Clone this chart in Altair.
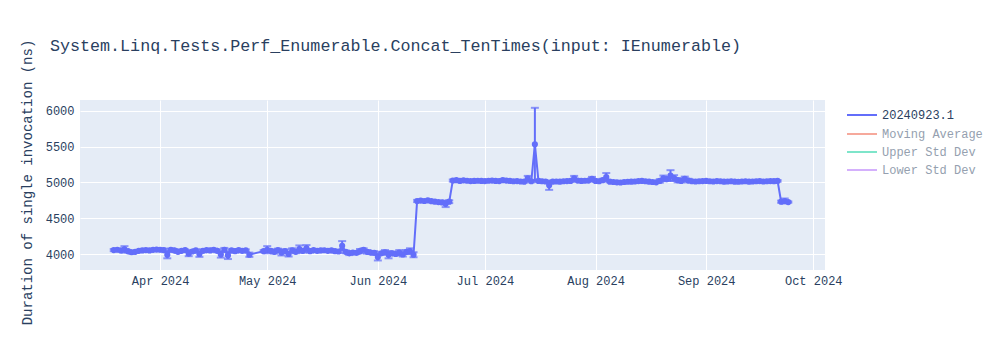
import altair as alt
import pandas as pd

# ---- data ----
series_name = "20240923.1"
extra_names = ["Moving Average", "Upper Std Dev", "Lower Std Dev"]
extra_colors = ["#EF553B", "#00cc96", "#ab63fa"]

dates = list(pd.date_range("2024-03-19", "2024-04-26", freq="D")) + \
        list(pd.date_range("2024-04-30", "2024-09-24", freq="D"))

mar_vals = [4055, 4060, 4050, 4065, 4040, 4025, 4030, 4045, 4050, 4055, 4050, 4058, 4062]
mar_errs = [15, 10, 10, 45, 15, 20, 10, 10, 10, 8, 10, 8, 10]

apr_vals = [4060, 4055, 3990, 4060, 4050, 4030, 4045, 4055, 4005, 4035, 4050, 4000, 4045,
            4055, 4050, 4060, 4045, 3995, 4060, 3980, 4050, 4040, 4055, 4045, 4050, 3990,
            4040]
apr_errs = [15, 20, 50, 15, 20, 15, 15, 10, 35, 20, 15, 40, 20,
            15, 10, 15, 20, 45, 25, 50, 15, 20, 15, 20, 15, 30,
            15]

may_vals = [4060, 4045, 4030, 4055, 4020, 4040, 4000, 4050, 4030, 4070, 4045, 4080, 4040,
            4055, 4045, 4050, 4052, 4045, 4050, 4040, 4035, 4115, 4030, 4010, 4020, 4015,
            4040, 4060, 4030, 4020, 4015]
may_errs = [50, 20, 25, 20, 40, 25, 35, 30, 20, 50, 25, 45, 20,
            15, 20, 15, 12, 15, 10, 15, 20, 65, 20, 25, 20, 15,
            30, 20, 25, 20, 25]

jun_vals = [3960, 4010, 4025, 3990, 4010, 4000, 4020, 3995, 4030, 4040, 3990,
            4740, 4745, 4740, 4748, 4738, 4730, 4725, 4720, 4700, 4730,
            5025, 5030, 5020, 5028, 5022, 5018, 5020, 5022, 5020]
jun_errs = [50, 20, 30, 50, 25, 20, 35, 30, 25, 40, 35,
            15, 10, 10, 8, 10, 10, 12, 15, 45, 20,
            15, 15, 10, 12, 10, 8, 8, 8, 8]

jul_vals = [5018, 5022, 5025, 5020, 5018, 5030, 5025, 5020, 5015, 5018, 5012, 5010, 5055,
            5015, 5530, 5020, 5015, 5012, 4960, 5010, 5012, 5010, 5015, 5018, 5020, 5055,
            5025, 5020, 5022, 5025, 5048]
jul_errs = [8, 8, 10, 8, 8, 12, 10, 8, 8, 8, 10, 12, 35,
            15, 510, 15, 12, 10, 65, 10, 8, 8, 8, 10, 15, 35,
            15, 10, 10, 12, 28]

aug_vals = [5020, 5015, 5030, 5075, 5010, 5005, 5000, 4998, 5005, 5008, 5010, 5012, 5018,
            5020, 5015, 5010, 5005, 5000, 5020, 5055, 5045, 5095, 5060, 5030, 5020, 5050,
            5025, 5015, 5012, 5015, 5018]
aug_errs = [15, 10, 20, 55, 10, 8, 8, 8, 8, 8, 8, 8, 10,
            8, 8, 8, 10, 10, 25, 40, 25, 75, 40, 30, 20, 30,
            25, 10, 8, 8, 8]

sep_vals = [5020, 5015, 5012, 5018, 5015, 5010, 5012, 5015, 5010, 5008, 5012, 5015, 5010,
            5012, 5015, 5018, 5012, 5015, 5018, 5016, 5020, 4730, 4740, 4725]
sep_errs = [8, 8, 8, 8, 8, 8, 8, 8, 8, 8, 8, 8, 8,
            8, 8, 8, 8, 8, 8, 8, 12, 15, 35, 10]

values = mar_vals + apr_vals + may_vals + jun_vals + jul_vals + aug_vals + sep_vals
errors = mar_errs + apr_errs + may_errs + jun_errs + jul_errs + aug_errs + sep_errs

y_ticks = [4000, 4500, 5000, 5500, 6000]

df = pd.DataFrame({
    "date": dates,
    "value": values,
    "lo": [v - e for v, e in zip(values, errors)],
    "hi": [v + e for v, e in zip(values, errors)],
    "series": series_name,
})
df["date"] = df["date"].dt.strftime("%Y-%m-%dT%H:%M:%S")

legend_df = pd.DataFrame({"name": extra_names})

FONT = "Liberation Mono"
TXT = "#2a3f5f"
BLUE = "#636efa"
LEG_SYMBOL = "M-3,0H3"

x_scale = alt.Scale(domain=[alt.DateTime(year=2024, month=3, date=9, hours=13),
                            alt.DateTime(year=2024, month=10, date=4, hours=7)])
y_scale = alt.Scale(domain=[3777, 6149], nice=False, zero=False)

x_axis = alt.Axis(
    title=None, format="%b %Y",
    values=[alt.DateTime(year=2024, month=m, date=1) for m in range(4, 11)],
    grid=True, gridColor="white", gridWidth=1, domain=False, ticks=False,
    labelFont=FONT, labelFontSize=12, labelColor=TXT, labelPadding=5,
)
y_axis = alt.Axis(
    title="Duration of single invocation (ns)", values=y_ticks, format="d",
    grid=True, gridColor="white", gridWidth=1, domain=False, ticks=False,
    labelFont=FONT, labelFontSize=12, labelColor=TXT, labelPadding=6,
    titleFont=FONT, titleFontSize=14, titleFontWeight="normal", titleColor=TXT,
    titleX=-53, titleY=82, titleAngle=270, titleAlign="center", titleBaseline="middle",
)

X = alt.X("date:T", scale=x_scale, axis=x_axis)
Y = alt.Y("value:Q", scale=y_scale, axis=y_axis)

base = alt.Chart(df)

line = base.mark_line(strokeWidth=2, clip=True).encode(
    x=X, y=Y,
    color=alt.Color("series:N",
                    scale=alt.Scale(domain=[series_name], range=[BLUE]),
                    legend=alt.Legend(
                        title=None, orient="none", legendX=776, legendY=9,
                        symbolType=LEG_SYMBOL, symbolSize=100, symbolStrokeWidth=2,
                        labelFont=FONT, labelFontSize=12, labelColor=TXT,
                        labelOffset=14, rowPadding=6)),
)
pts = base.mark_point(filled=True, size=38, opacity=1, color=BLUE, clip=True).encode(x=X, y=Y)
bars = base.mark_rule(strokeWidth=2, color=BLUE, clip=True).encode(x=X, y="lo:Q", y2="hi:Q")
cap_lo = base.mark_tick(orient="horizontal", size=8, thickness=2, color=BLUE, clip=True).encode(x=X, y="lo:Q")
cap_hi = base.mark_tick(orient="horizontal", size=8, thickness=2, color=BLUE, clip=True).encode(x=X, y="hi:Q")

legend_layer = alt.Chart(legend_df).mark_rule(opacity=0).encode(
    y=alt.value(0),
    stroke=alt.Stroke("name:N",
                      scale=alt.Scale(domain=extra_names, range=extra_colors),
                      legend=alt.Legend(
                          title=None, orient="none", legendX=776, legendY=28,
                          symbolType=LEG_SYMBOL, symbolSize=100, symbolStrokeWidth=2,
                          symbolOpacity=0.5, rowPadding=6,
                          labelFont=FONT, labelFontSize=12, labelColor="#959faf",
                          labelOffset=14)),
)

chart = alt.layer(bars, cap_lo, cap_hi, line, pts, legend_layer).resolve_scale(
    color="independent", stroke="independent"
).properties(
    width=745, height=170,
    padding={"left": 80, "top": 100, "right": 175, "bottom": 80},
    autosize="none",
    title=alt.Title(
        "System.Linq.Tests.Perf_Enumerable.Concat_TenTimes(input: IEnumerable)",
        anchor="start", frame="group", dx=-30, offset=-33, baseline="bottom",
        font=FONT, fontSize=16.7, fontWeight="normal", color=TXT),
    background="white",
).configure_view(fill="#E5ECF6", strokeWidth=0)

chart.save("out.html", embed_options={"renderer": "svg", "actions": False})
